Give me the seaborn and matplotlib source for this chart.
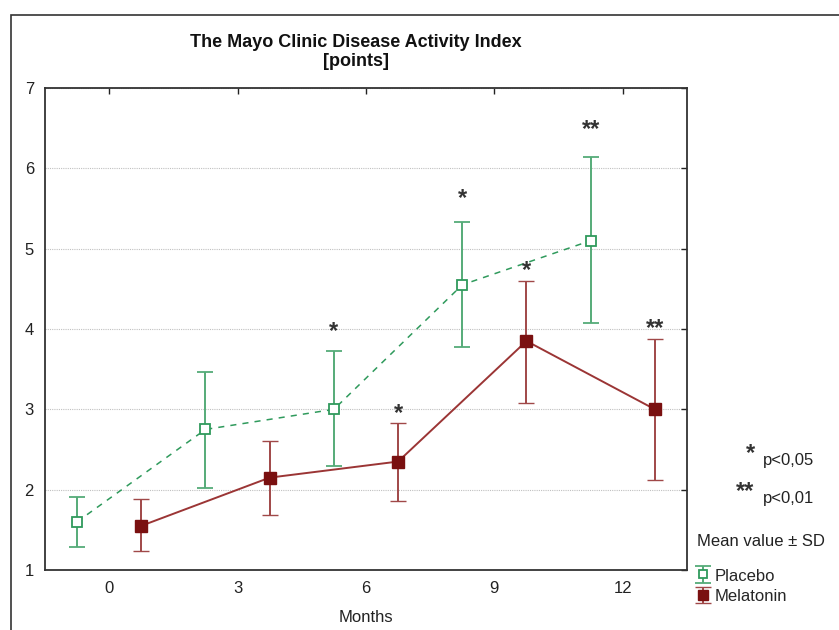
import matplotlib
matplotlib.use("Agg")
import matplotlib.pyplot as plt
import seaborn as sns
import pandas as pd
from matplotlib.patches import Rectangle
from matplotlib.legend_handler import HandlerErrorbar

# ---- data ----
months = [0, 3, 6, 9, 12]
placebo_mean = [1.60, 2.75, 3.00, 4.55, 5.10]
placebo_low = [1.29, 2.02, 2.29, 3.77, 4.08]
placebo_high = [1.91, 3.47, 3.72, 5.33, 6.14]
melatonin_mean = [1.55, 2.15, 2.35, 3.85, 3.00]
melatonin_low = [1.24, 1.69, 1.86, 3.08, 2.12]
melatonin_high = [1.89, 2.61, 2.83, 4.60, 3.87]

placebo_stars = ["", "", "*", "*", "**"]
placebo_star_y = [0, 0, 3.97, 5.63, 6.48]
melatonin_stars = ["", "", "*", "*", "**"]
melatonin_star_y = [0, 0, 2.95, 4.73, 4.01]

title = "The Mayo Clinic Disease Activity Index\n[points]"
xlabel = "Months"
yticks = [1, 2, 3, 4, 5, 6, 7]

# ---- style ----
sns.set_style("white")
plt.rcParams['font.family'] = ['Liberation Sans', 'DejaVu Sans']

GREEN = "#2f9a5c"
GREEN_EB = "#55ab78"
RED = "#7a1010"
RED_LINE = "#9b3535"
RED_EB = "#a04848"
STAR = "#333333"

off = 0.75
px = [m - off for m in months]
mx = [m + off for m in months]

df = pd.DataFrame({
    "x": px + mx,
    "y": placebo_mean + melatonin_mean,
    "group": ["Placebo"] * 5 + ["Melatonin"] * 5,
})

fig = plt.figure(figsize=(8.39, 6.30), dpi=100)
ax = fig.add_axes([45 / 839, 1 - 570 / 630, (687 - 45) / 839, (570 - 88) / 630])

# outer frame
fig.add_artist(Rectangle((11 / 839, -0.05), 1.2, 1 - 15 / 630 + 0.05,
                         transform=fig.transFigure, fill=False,
                         edgecolor="#333333", lw=1.2))

ax.yaxis.grid(True, linestyle=(0, (1, 1)), color="#c0c0c0", lw=0.8)
ax.set_axisbelow(True)

sns.lineplot(data=df[df.group == "Placebo"], x="x", y="y", ax=ax,
             color=GREEN, lw=1.1, linestyle=(0, (4, 4)), legend=False)
sns.lineplot(data=df[df.group == "Melatonin"], x="x", y="y", ax=ax,
             color=RED_LINE, lw=1.4, legend=False)

pe = ax.errorbar(px, placebo_mean,
                 yerr=[[m - l for m, l in zip(placebo_mean, placebo_low)],
                       [h - m for m, h in zip(placebo_mean, placebo_high)]],
                 fmt="s", ms=7, mfc="white", mec=GREEN, mew=1.3,
                 ecolor=GREEN_EB, elinewidth=1.4, capsize=6, capthick=1.4,
                 label="Placebo", zorder=4)
me = ax.errorbar(mx, melatonin_mean,
                 yerr=[[m - l for m, l in zip(melatonin_mean, melatonin_low)],
                       [h - m for m, h in zip(melatonin_mean, melatonin_high)]],
                 fmt="s", ms=8, mfc=RED, mec=RED, mew=1,
                 ecolor=RED_EB, elinewidth=1.4, capsize=6, capthick=1.4,
                 label="Melatonin", zorder=4)

for x, s, y in zip(px, placebo_stars, placebo_star_y):
    if s:
        ax.text(x, y, s, ha="center", va="center", fontsize=17,
                fontweight="bold", color=STAR)
for x, s, y in zip(mx, melatonin_stars, melatonin_star_y):
    if s:
        ax.text(x, y, s, ha="center", va="center", fontsize=17,
                fontweight="bold", color=STAR)

ax.set_xlim(-1.5, 13.5)
ax.set_ylim(1, 7)
ax.set_xticks(months)
ax.set_yticks(yticks)
ax.tick_params(direction="in", top=True, right=True, length=4, width=1,
               labelsize=12, colors="#222222")
ax.tick_params(axis="x", pad=8)
ax.tick_params(axis="y", pad=8)
for sp in ax.spines.values():
    sp.set_color("#333333")
    sp.set_linewidth(1.3)
ax.set_xlabel(xlabel, fontsize=12, color="#222222", labelpad=10)
ax.set_ylabel("")

fig.text(356 / 839, 1 - 52 / 630, title, ha="center", va="center",
         fontsize=13, fontweight="bold", linespacing=1.2, color="#111111")

# side notes
fig.text(750 / 839, 1 - 454 / 630, "*", ha="center", va="center", fontsize=17,
         fontweight="bold", color=STAR)
fig.text(763 / 839, 1 - 461 / 630, "p<0,05", ha="left", va="center", fontsize=12, color="#222222")
fig.text(745 / 839, 1 - 492 / 630, "**", ha="center", va="center", fontsize=17,
         fontweight="bold", color=STAR)
fig.text(763 / 839, 1 - 498 / 630, "p<0,01", ha="left", va="center", fontsize=12, color="#222222")
fig.text(697 / 839, 1 - 541 / 630, "Mean value \u00b1 SD", ha="left", va="center", fontsize=12, color="#222222")

leg = fig.legend(handles=[pe, me], labels=["Placebo", "Melatonin"],
                 loc="upper left", bbox_to_anchor=(695 / 839, 1 - 568 / 630),
                 frameon=False, fontsize=12, handlelength=0.9, handletextpad=0.3,
                 handleheight=0.9, labelspacing=0.3, borderpad=0, borderaxespad=0,
                 markerscale=0.85,
                 handler_map={type(pe): HandlerErrorbar(yerr_size=0.5)})

fig.savefig("out.png", dpi=100)
